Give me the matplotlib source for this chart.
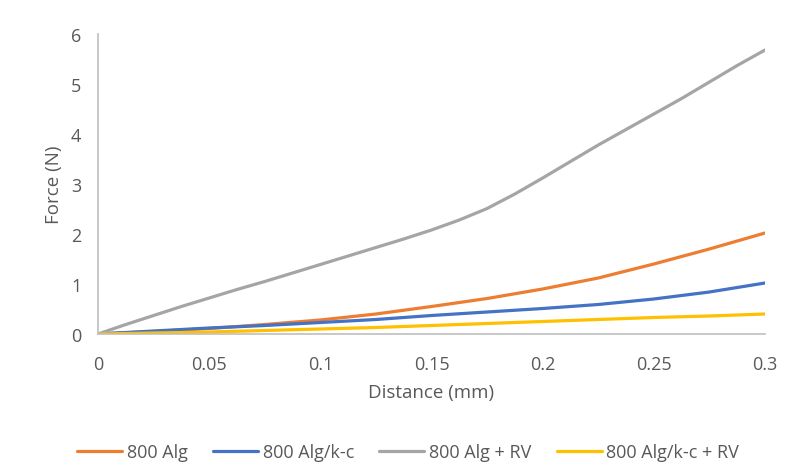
import numpy as np
import matplotlib
matplotlib.use('Agg')
import matplotlib.pyplot as plt

plt.rcParams['font.family'] = ['Open Sans', 'DejaVu Sans']

# distance (mm) and force (N)
dist = [0, 0.025, 0.05, 0.075, 0.1, 0.125, 0.15, 0.175, 0.2, 0.225, 0.25, 0.275, 0.3]
alg = [0, 0.05, 0.11, 0.19, 0.28, 0.40, 0.55, 0.71, 0.90, 1.12, 1.40, 1.70, 2.02]
alg_kc = [0, 0.06, 0.12, 0.17, 0.23, 0.29, 0.37, 0.44, 0.51, 0.59, 0.70, 0.84, 1.02]
alg_kc_rv = [0, 0.02, 0.04, 0.07, 0.10, 0.13, 0.17, 0.21, 0.25, 0.29, 0.33, 0.36, 0.40]

# gray curve bends more, read it on a finer step
dist_rv = [0, 0.0125, 0.025, 0.0375, 0.05, 0.0625, 0.075, 0.0875, 0.1, 0.1125, 0.125,
           0.1375, 0.15, 0.1625, 0.175, 0.1875, 0.2, 0.2125, 0.225, 0.2375, 0.25,
           0.2625, 0.275, 0.2875, 0.3]
alg_rv = [0, 0.19, 0.37, 0.55, 0.72, 0.89, 1.05, 1.22, 1.39, 1.56, 1.73,
          1.90, 2.08, 2.28, 2.51, 2.80, 3.12, 3.45, 3.78, 4.09, 4.40,
          4.71, 5.04, 5.37, 5.68]

labels = ['800 Alg', '800 Alg/k-c', '800 Alg + RV', '800 Alg/k-c + RV']
colors = ['#ED7D31', '#4472C4', '#A5A5A5', '#FFC000']
xs = [dist, dist, dist_rv, dist]
series = [alg, alg_kc, alg_rv, alg_kc_rv]

fig = plt.figure(figsize=(7.88, 4.77), dpi=100)
ax = fig.add_axes([0.1244, 0.2977, 0.8464, 0.6289])

for x, y, lab, col in zip(xs, series, labels, colors):
    ax.plot(x, y, color=col, lw=2.3, label=lab, solid_capstyle='round')

ax.set_xlim(0, 0.3)
ax.set_ylim(0, 6)
ax.set_xticks([0, 0.05, 0.1, 0.15, 0.2, 0.25, 0.3])
ax.set_xticklabels(['0', '0.05', '0.1', '0.15', '0.2', '0.25', '0.3'])
ax.set_yticks(range(7))

for s in ['top', 'right']:
    ax.spines[s].set_visible(False)
for s in ['left', 'bottom']:
    ax.spines[s].set_color('#BFBFBF')
    ax.spines[s].set_linewidth(1.2)
ax.tick_params(length=0, labelsize=13, colors='#595959')
ax.tick_params(axis='x', pad=15)
ax.tick_params(axis='y', pad=12)

ax.set_xlabel('Distance (mm)', fontsize=13.5, color='#595959', labelpad=7)
ax.set_ylabel('Force (N)', fontsize=13.5, color='#595959', labelpad=6)

leg = fig.legend(loc='center', ncol=4, frameon=False, bbox_to_anchor=(0.518, 0.05),
                 fontsize=13, handlelength=2.5, columnspacing=1.4, handletextpad=0.25)
for t in leg.get_texts():
    t.set_color('#595959')

plt.savefig('out.png', dpi=100)
